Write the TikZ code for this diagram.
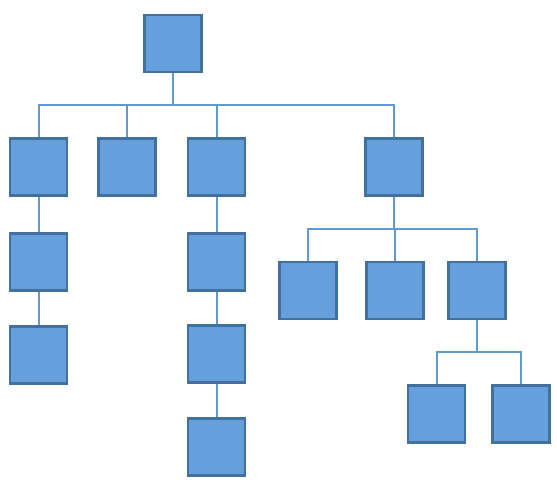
\documentclass[tikz,border=0pt]{standalone}
\definecolor{boxfill}{RGB}{101,160,220}
\definecolor{boxline}{RGB}{66,113,160}
\definecolor{conn}{RGB}{96,152,210}
\begin{document}
\begin{tikzpicture}[x=1pt,y=-1pt,
  box/.style={draw=boxline,fill=boxfill,line width=2.2pt,minimum width=57pt,minimum height=57pt,inner sep=0pt},
  link/.style={draw=conn,line width=2pt}]
\useasboundingbox (0,0) rectangle (557,487);
\node[box] (root) at (173,43.5) {};
\node[box] (b1) at (38.5,167) {};
\node[box] (b2) at (127,167) {};
\node[box] (b3) at (216.5,167) {};
\node[box] (b4) at (394,167) {};
\node[box] (c1a) at (38.5,262) {};
\node[box] (c1b) at (38.5,355) {};
\node[box] (c3a) at (216.5,262) {};
\node[box] (c3b) at (216.5,354) {};
\node[box] (c3c) at (216.5,447) {};
\node[box] (r1) at (308,290.5) {};
\node[box] (r2) at (395,290.5) {};
\node[box] (r3) at (477,290.5) {};
\node[box] (s1) at (436.5,414) {};
\node[box] (s2) at (521,414) {};
\coordinate (bus1) at (173,105);
\coordinate (bus2) at (394,229);
\coordinate (bus3) at (477,352);
\path[link] (root.south) -- (bus1);
\foreach \n in {b1,b2,b3,b4}{\path[link] (bus1) -| (\n.north);}
\path[link] (b1.south) -- (c1a.north);
\path[link] (c1a.south) -- (c1b.north);
\path[link] (b3.south) -- (c3a.north);
\path[link] (c3a.south) -- (c3b.north);
\path[link] (c3b.south) -- (c3c.north);
\path[link] (b4.south) -- (bus2);
\foreach \n in {r1,r2,r3}{\path[link] (bus2) -| (\n.north);}
\path[link] (r3.south) -- (bus3);
\foreach \n in {s1,s2}{\path[link] (bus3) -| (\n.north);}
\end{tikzpicture}
\end{document}
